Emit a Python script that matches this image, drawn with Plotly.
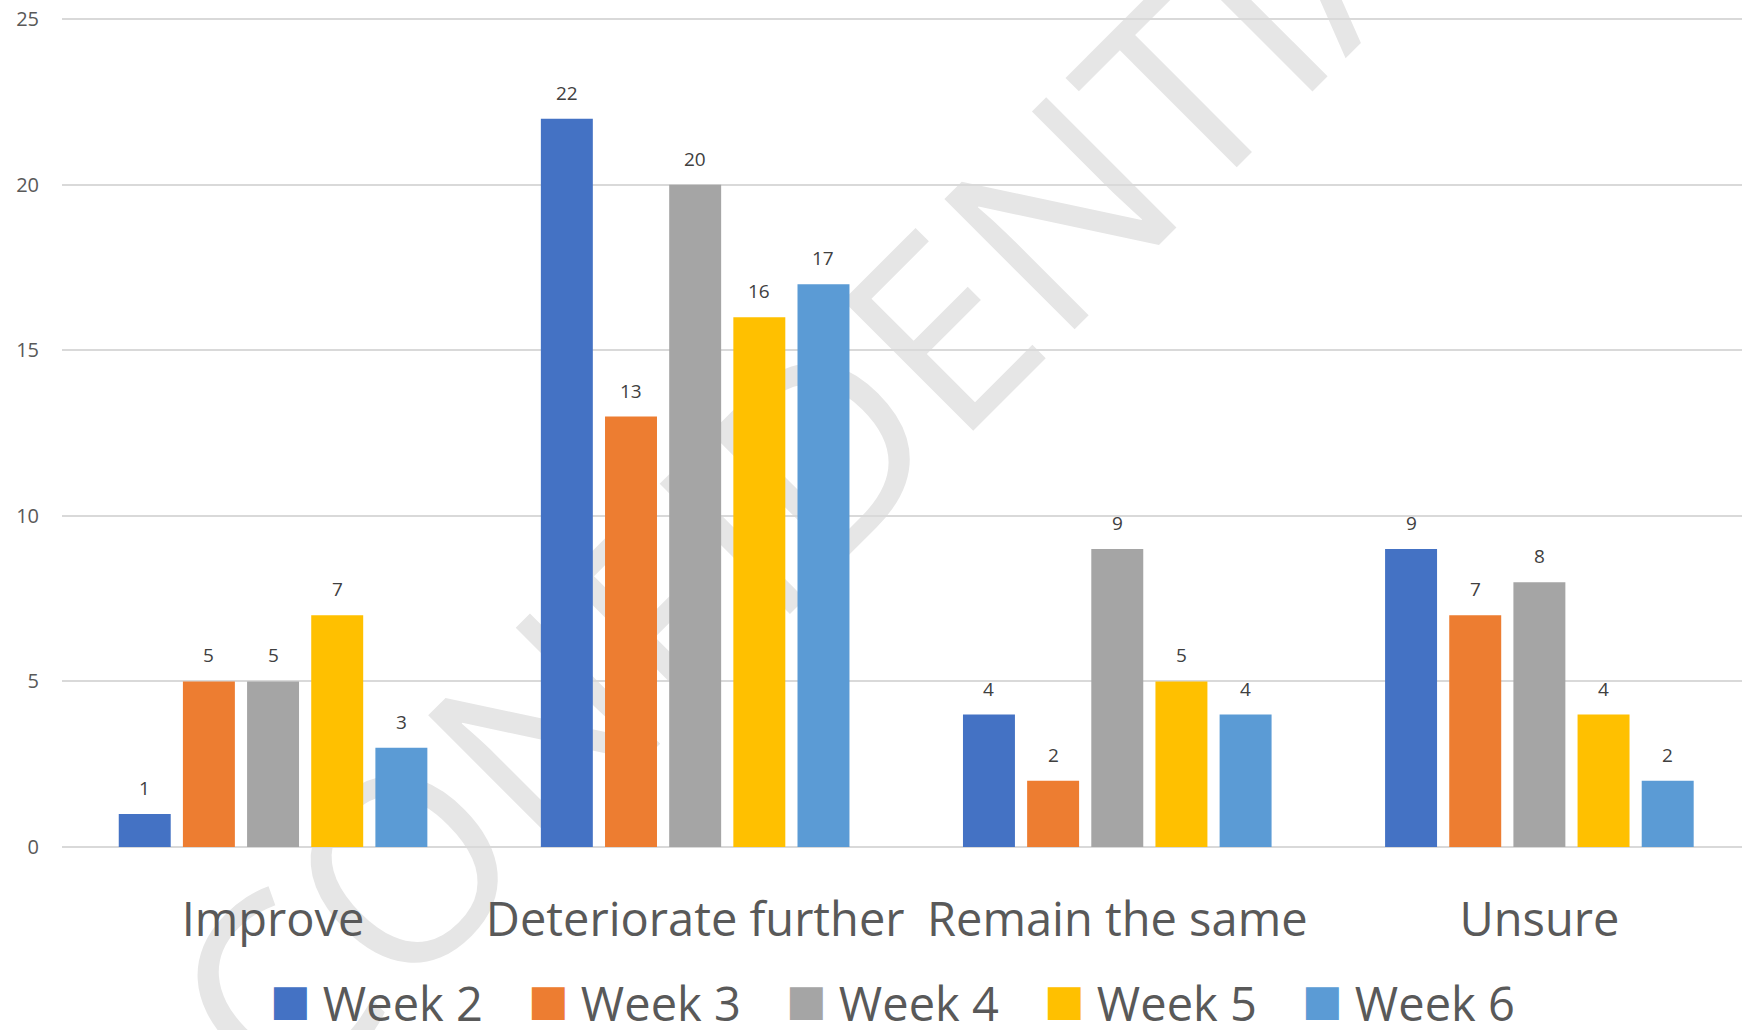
import plotly.graph_objects as go

categories = ["Improve", "Deteriorate further", "Remain the same", "Unsure"]
series_names = ["Week 2", "Week 3", "Week 4", "Week 5", "Week 6"]
week2 = [1, 22, 4, 9]
week3 = [5, 13, 2, 7]
week4 = [5, 20, 9, 8]
week5 = [7, 16, 5, 4]
week6 = [3, 17, 4, 2]
series_values = [week2, week3, week4, week5, week6]
y_ticks = [0, 5, 10, 15, 20, 25]
colors = ["#4472C4", "#ED7D31", "#A5A5A5", "#FFC000", "#5B9BD5"]
watermark = "CONFIDENTIAL"

W, H = 1742, 1030
ML, MR, MT, MB = 62, 0, 16, 183
XR = [-0.5, 3.48]
YR = [0, 25.1]
BARGAP = 0.24
GROUPGAP = 0.19
FONT = "Open Sans"
TXT = "#595959"

fig = go.Figure()
for name, vals, c in zip(series_names, series_values, colors):
    fig.add_trace(go.Bar(x=categories, y=vals, name=name, marker=dict(color=c, line=dict(width=0)),
                         showlegend=False))

# legend proxies (large square keys)
for name, c in zip(series_names, colors):
    fig.add_trace(go.Scatter(
        x=[None], y=[None], mode="none",
        name=(f"<span style='color:{c};font-family:DejaVu Sans;font-size:43px;baseline-shift:6px'>■</span>"
              f" {name}"),
        showlegend=True))

# data labels above bars
plot_w = W - ML - MR
plot_h = H - MT - MB
cat_px = plot_w / (XR[1] - XR[0])
slot = (1 - BARGAP) * cat_px / len(series_names)
for i, vals in enumerate(series_values):
    for cat, v in zip(categories, vals):
        fig.add_annotation(x=cat, y=v, text=str(v), showarrow=False, yanchor="bottom",
                           xshift=(i - (len(series_names) - 1) / 2) * slot, yshift=11,
                           font=dict(family=FONT, size=19, color="#404040"))

# watermark behind the bars
xc = (862 - ML) / plot_w
yc = (H - MB - 426) / plot_h
fig.add_shape(type="line", xref="paper", yref="paper", x0=xc - 0.001, x1=xc + 0.001, y0=yc, y1=yc,
              line=dict(width=0, color="rgba(0,0,0,0)"), layer="below",
              label=dict(text=watermark, textangle=-45, textposition="middle",
                         xanchor="center", yanchor="middle",
                         font=dict(family=FONT, size=258, color="#e6e6e6")))

fig.update_layout(
    width=W, height=H, autosize=False,
    margin=dict(l=ML, r=MR, t=MT, b=MB, pad=0, autoexpand=False),
    paper_bgcolor="white", plot_bgcolor="white",
    barmode="group", bargap=BARGAP, bargroupgap=GROUPGAP,
    font=dict(family=FONT, color=TXT),
    showlegend=True,
    legend=dict(orientation="h", xanchor="left", yanchor="middle",
                x=(275 - 45 - ML) / plot_w, y=(H - MB - 1003) / plot_h,
                font=dict(family=FONT, size=47, color=TXT),
                itemwidth=30, entrywidth=213, entrywidthmode="pixels",
                bgcolor="rgba(0,0,0,0)", borderwidth=0),
    xaxis=dict(type="category", range=XR, showgrid=False, showline=False, ticks="",
               tickfont=dict(family=FONT, size=47, color=TXT), ticklabelstandoff=41,
               zeroline=False, automargin=False),
    yaxis=dict(range=YR, tickvals=y_ticks, showgrid=True, gridcolor="#d9d9d9", gridwidth=1.5,
               zeroline=True, zerolinecolor="#d9d9d9", zerolinewidth=1.5, showline=False, ticks="",
               tickfont=dict(family=FONT, size=20, color=TXT), ticklabelstandoff=22, automargin=False),
)

fig.write_html("out.html", config={"displayModeBar": False},
               post_script="document.body.style.margin='0px';")
